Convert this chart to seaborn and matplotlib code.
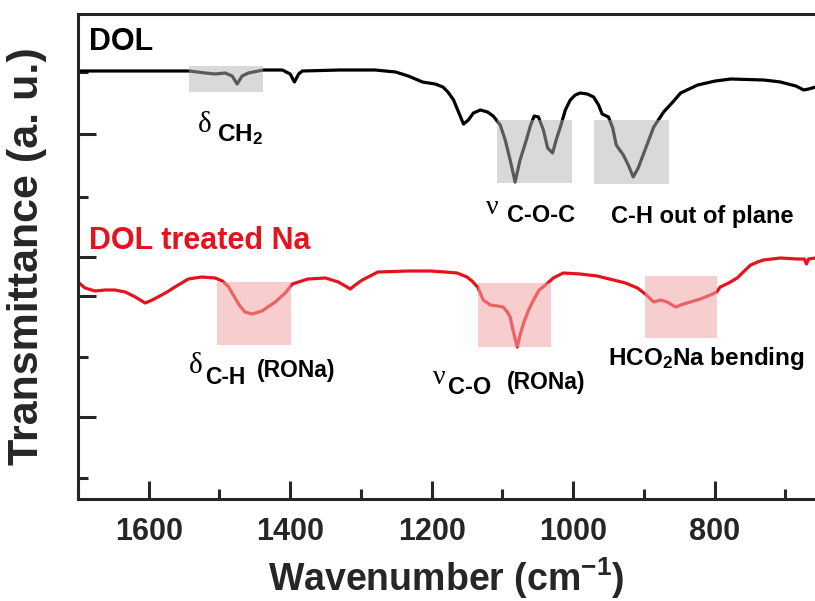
import numpy as np
import pandas as pd
import matplotlib
matplotlib.use("Agg")
import matplotlib.pyplot as plt
from matplotlib.patches import Rectangle
import seaborn as sns

# ---------------- data ----------------
dol_wn = [1700, 1669, 1626, 1563, 1543, 1520, 1506, 1492, 1482, 1475, 1468, 1459, 1438,
          1411, 1400, 1394, 1388, 1383, 1329, 1280, 1251, 1233, 1213, 1195, 1184, 1177,
          1169, 1162, 1155, 1148, 1141, 1131, 1121, 1113, 1103, 1096, 1089, 1082, 1075,
          1067, 1060, 1055, 1049, 1042, 1036, 1029, 1024, 1018, 1011, 1004, 997, 990,
          980, 971, 964, 959, 950, 944, 939, 929, 922, 915, 908, 901, 893, 886, 872,
          859, 848, 824, 799, 777, 731, 718, 707, 685, 674, 667, 657]
dol_t = [4.28, 4.28, 4.28, 4.28, 4.28, 4.26, 4.25, 4.26, 4.23, 4.15, 4.23, 4.26, 4.29,
         4.29, 4.25, 4.17, 4.25, 4.28, 4.29, 4.29, 4.27, 4.23, 4.17, 4.15, 4.12, 4.07,
         3.99, 3.87, 3.75, 3.79, 3.86, 3.89, 3.87, 3.83, 3.74, 3.59, 3.39, 3.17, 3.39,
         3.57, 3.74, 3.83, 3.82, 3.69, 3.51, 3.46, 3.59, 3.72, 3.89, 3.99, 4.04, 4.06,
         4.05, 4.02, 3.94, 3.85, 3.82, 3.71, 3.54, 3.44, 3.34, 3.22, 3.31, 3.44, 3.59,
         3.72, 3.87, 3.97, 4.06, 4.14, 4.18, 4.20, 4.19, 4.18, 4.17, 4.13, 4.09, 4.10,
         4.12]

na_wn = [1700, 1690, 1676, 1662, 1648, 1633, 1619, 1605, 1595, 1587, 1574, 1563, 1544,
         1525, 1506, 1496, 1488, 1478, 1471, 1464, 1454, 1440, 1421, 1407, 1397, 1375,
         1350, 1332, 1322, 1315, 1308, 1298, 1287, 1276, 1233, 1202, 1181, 1164, 1150,
         1143, 1135, 1127, 1117, 1107, 1099, 1093, 1089, 1085, 1079, 1075, 1070, 1063,
         1056, 1048, 1039, 1028, 1014, 990, 966, 943, 926, 909, 898, 886, 876, 867,
         855, 844, 834, 820, 806, 797, 792, 780, 768, 758, 749, 739, 731, 707, 683,
         673, 670, 667, 657]
na_t = [2.17, 2.11, 2.08, 2.09, 2.09, 2.07, 2.02, 1.96, 1.99, 2.02, 2.07, 2.12, 2.20,
        2.22, 2.21, 2.18, 2.13, 2.01, 1.93, 1.87, 1.85, 1.88, 1.97, 2.06, 2.15, 2.20,
        2.21, 2.17, 2.13, 2.10, 2.14, 2.19, 2.23, 2.27, 2.28, 2.28, 2.27, 2.26, 2.22,
        2.18, 2.12, 1.99, 1.94, 1.93, 1.92, 1.87, 1.82, 1.69, 1.52, 1.64, 1.76, 1.89,
        1.99, 2.09, 2.14, 2.21, 2.26, 2.25, 2.23, 2.19, 2.16, 2.11, 2.05, 1.97, 1.99,
        1.97, 1.92, 1.95, 1.97, 2.00, 2.04, 2.07, 2.12, 2.16, 2.21, 2.28, 2.34, 2.37,
        2.39, 2.41, 2.40, 2.40, 2.35, 2.40, 2.41]

# highlighted bands: (wn_high, wn_low, t_low, t_high)
gray_bands = [(1543, 1438, 4.07, 4.33), (1107, 1001, 3.16, 3.79), (970, 864, 3.15, 3.79)]
red_bands = [(1503, 1399, 1.54, 2.17), (1135, 1031, 1.52, 2.16), (899, 796, 1.61, 2.23)]

x_major = [1600, 1400, 1200, 1000, 800]
x_minor = [1700, 1500, 1300, 1100, 900, 700]
y_major = [3.65, 2.42, 2.03, 0.82]
y_minor = [4.27, 3.02, 1.42, 0.21]

series_names = ["DOL", "DOL treated Na"]

# ---------------- style ----------------
sns.set_style("ticks")
plt.rcParams["font.family"] = ["Liberation Sans", "DejaVu Sans"]
plt.rcParams["font.weight"] = "bold"
plt.rcParams["mathtext.fontset"] = "custom"
plt.rcParams["mathtext.rm"] = "Liberation Sans:bold"
plt.rcParams["mathtext.bf"] = "Liberation Sans:bold"
plt.rcParams["mathtext.it"] = "Liberation Sans:bold"
plt.rcParams["mathtext.default"] = "bf"

RED = "#e3141c"

fig = plt.figure(figsize=(8.15, 6.01), dpi=100)
ax = fig.add_axes([78 / 815, 1 - 499 / 601, 1 - 78 / 815, (499 - 14) / 601])

df_dol = pd.DataFrame({"wn": dol_wn, "t": dol_t})
df_na = pd.DataFrame({"wn": na_wn, "t": na_t})
sns.lineplot(data=df_dol, x="wn", y="t", color="black", lw=2.3, ax=ax, zorder=2)
sns.lineplot(data=df_na, x="wn", y="t", color=RED, lw=2.3, ax=ax, zorder=2)

for (x1, x0, y0, y1) in gray_bands:
    ax.add_patch(Rectangle((x0, y0), x1 - x0, y1 - y0, facecolor=(0.706, 0.706, 0.706),
                           alpha=0.5, edgecolor="none", zorder=3))
for (x1, x0, y0, y1) in red_bands:
    ax.add_patch(Rectangle((x0, y0), x1 - x0, y1 - y0, facecolor=(0.945, 0.643, 0.643),
                           alpha=0.55, edgecolor="none", zorder=3))

ax.set_xlim(1700, 658)
ax.set_ylim(0, 4.85)
ax.set_xticks(x_major)
ax.set_xticks(x_minor, minor=True)
ax.set_yticks(y_major)
ax.set_yticks(y_minor, minor=True)
ax.set_yticklabels([])
ax.tick_params(axis="both", which="major", direction="in", length=13, width=2.2,
               labelsize=22, pad=13)
ax.tick_params(axis="both", which="minor", direction="in", length=7, width=2.2)
for lab in ax.get_xticklabels():
    lab.set_fontweight("bold")
for s in ["left", "bottom", "top"]:
    ax.spines[s].set_linewidth(2.2)
ax.spines["right"].set_visible(False)

ax.set_xlabel("Wavenumber (cm$^{-1}$)", fontsize=27, fontweight="bold", labelpad=6)
ax.set_ylabel("Transmittance (a. u.)", fontsize=31, fontweight="bold", labelpad=9)

# series names
ax.text(1684, 4.57, series_names[0], fontsize=22, fontweight="bold", color="black",
        ha="left", va="center")
ax.text(1684, 2.58, series_names[1], fontsize=22, fontweight="bold", color=RED,
        ha="left", va="center")

GREEK = dict(family=["Liberation Serif", "DejaVu Serif"], fontweight="normal", color="black")
LAB = dict(fontweight="bold", color="black", ha="left", va="center")

# delta CH2
ax.text(1521, 3.74, "δ", fontsize=21, ha="center", va="center", **GREEK)
ax.text(1504, 3.64, "CH$_{2}$", fontsize=17.5, **LAB)
# nu C-O-C
ax.text(1114, 2.92, "ν", fontsize=20, ha="center", va="center", **GREEK)
ax.text(1094, 2.83, "C-O-C", fontsize=17, **LAB)
# C-H out of plane
ax.text(947, 2.83, "C-H out of plane", fontsize=17, **LAB)
# delta C-H (RONa)
ax.text(1534, 1.33, "δ", fontsize=21, ha="center", va="center", **GREEK)
ax.text(1520, 1.21, "C-H", fontsize=16.5, **LAB)
ax.text(1447, 1.28, "(RONa)", fontsize=16.5, **LAB)
# nu C-O (RONa)
ax.text(1190, 1.21, "ν", fontsize=20, ha="center", va="center", **GREEK)
ax.text(1177, 1.11, "C-O", fontsize=17, **LAB)
ax.text(1094, 1.17, "(RONa)", fontsize=16.5, **LAB)
# HCO2Na bending
ax.text(950, 1.40, "HCO$_{2}$Na bending", fontsize=17.5, **LAB)

fig.savefig("out.png", dpi=100)
